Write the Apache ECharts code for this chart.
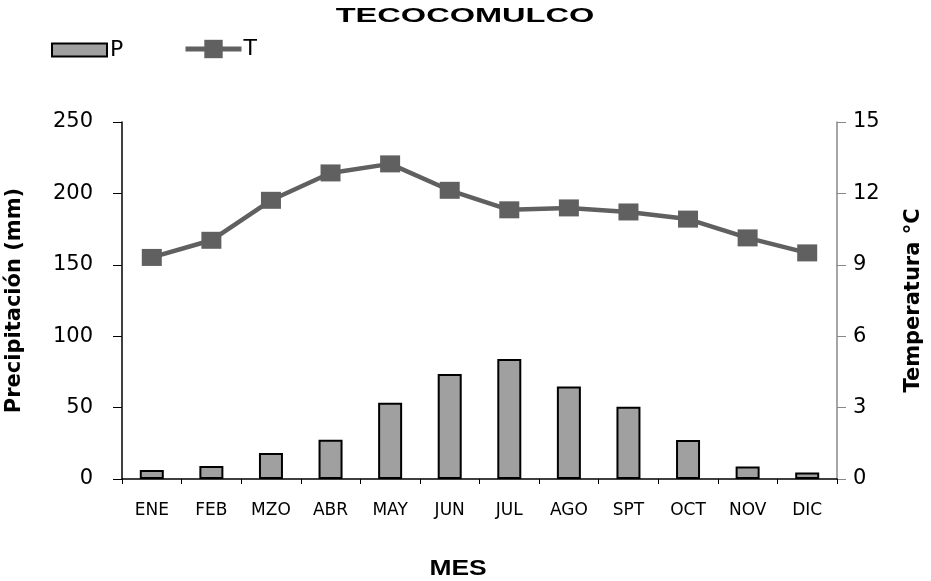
<!DOCTYPE html>
<html><head><meta charset="utf-8">
<script src="https://cdn.jsdelivr.net/npm/echarts@6/dist/echarts.min.js"></script>
<style>html,body{margin:0;padding:0;background:#fff}#c{width:931px;height:581px}</style>
</head><body><div id="c"></div>
<script>
var months = ['ENE','FEB','MZO','ABR','MAY','JUN','JUL','AGO','SPT','OCT','NOV','DIC'];
var precip = [6.3, 9.1, 18.2, 27.5, 53.4, 73.5, 84, 64.8, 50.6, 27.3, 8.8, 4.6];
var temp = [9.31, 10.03, 11.71, 12.86, 13.24, 12.13, 11.31, 11.39, 11.22, 10.92, 10.13, 9.5];
var titleText = 'TECOCOMULCO';
var xName = 'MES';
var font = 'DejaVu Sans, Verdana, sans-serif';
var chart = echarts.init(document.getElementById('c'));
chart.setOption({
  backgroundColor: '#fff',
  animation: false,
  graphic: [
    {type: 'text', x: 465, y: 16, scaleX: 1.55, silent: true,
     style: {text: titleText, font: 'bold 21px "Liberation Sans", Arial, sans-serif', fill: '#000',
             align: 'center', verticalAlign: 'middle'}},
    {type: 'text', x: 458, y: 569, scaleX: 1.2, silent: true,
     style: {text: xName, font: 'bold 22px "Liberation Sans", Arial, sans-serif', fill: '#000',
             align: 'center', verticalAlign: 'middle'}}
  ],
  legend: [
    {left: 46, top: 34, itemWidth: 55, itemHeight: 13, itemGap: 10,
     textStyle: {fontFamily: font, fontSize: 22, color: '#000', padding: [0,0,0,-2]},
     data: [{name: 'P', icon: 'rect'}]},
    {left: 178, top: 33, itemWidth: 56, itemHeight: 23, itemGap: 10,
     textStyle: {fontFamily: font, fontSize: 22, color: '#000', padding: [0,0,0,-3]},
     data: [{name: 'T', lineStyle: {width: 5, color: '#606060'}, itemStyle: {color: '#606060'}}]}
  ],
  grid: {left: 122, right: 94, top: 122, bottom: 102, outerBoundsMode: 'none', containLabel: false},
  xAxis: {type: 'category', data: months, boundaryGap: true,
    axisLine: {lineStyle: {color: '#000', width: 1.5}},
    axisTick: {show: true, length: 5, lineStyle: {color: '#000'}},
    axisLabel: {fontFamily: font, fontSize: 17, color: '#000', margin: 23}},
  yAxis: [{type: 'value', min: 0, max: 250, interval: 50,
    name: 'Precipitación (mm)', nameLocation: 'middle', nameGap: 97, nameRotate: 90,
    nameTextStyle: {fontFamily: font, fontSize: 21, fontWeight: 'bold', color: '#000'},
    axisLine: {show: true, lineStyle: {color: '#000', width: 1.5}},
    axisTick: {show: true, length: 9, lineStyle: {color: '#000'}},
    splitLine: {show: false},
    axisLabel: {fontFamily: font, fontSize: 21, color: '#000', margin: 29}},
   {type: 'value', min: 0, max: 15, interval: 3, position: 'right',
    name: 'Temperatura °C', nameLocation: 'middle', nameGap: 66, nameRotate: 90,
    nameTextStyle: {fontFamily: font, fontSize: 21, fontWeight: 'bold', color: '#000'},
    axisLine: {show: true, lineStyle: {color: '#888', width: 1.5}},
    axisTick: {show: true, length: 9, lineStyle: {color: '#888'}},
    splitLine: {show: false},
    axisLabel: {fontFamily: font, fontSize: 21, color: '#000', margin: 16}}],
  series: [
    {name: 'P', type: 'bar', data: precip, yAxisIndex: 0, barWidth: 24,
     itemStyle: {color: '#a0a0a0', borderColor: '#000', borderWidth: 2}},
    {name: 'T', type: 'line', data: temp, yAxisIndex: 1, symbol: 'rect', symbolSize: [20, 17],
     lineStyle: {color: '#606060', width: 4.5}, itemStyle: {color: '#606060'}}
  ]
});
</script></body></html>
